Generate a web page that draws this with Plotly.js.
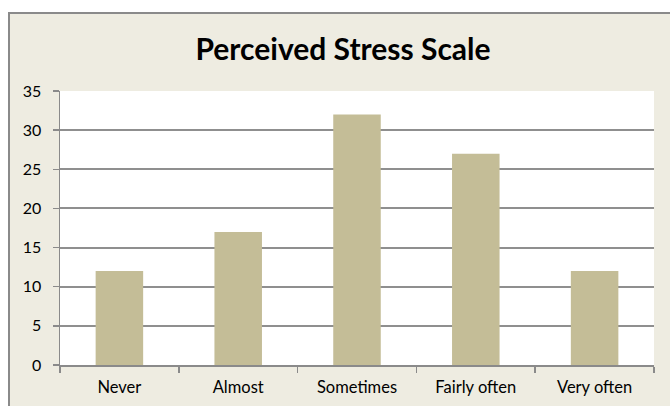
<!DOCTYPE html>
<html>
<head>
<meta charset="utf-8">
<script src="https://cdn.plot.ly/plotly-3.0.1.min.js"></script>
<style>html,body{margin:0;padding:0;background:#fff;}#chart{width:670px;height:406px;}</style>
</head>
<body>
<div id="chart"></div>
<script>
const categories = ["Never", "Almost", "Sometimes", "Fairly often", "Very often"];
const values = [12, 17, 32, 27, 12];
const yTicks = [0, 5, 10, 15, 20, 25, 30, 35];

const FONT = "Lato, 'Open Sans', sans-serif";
const W = 670, H = 406;
const m = {l: 60, r: 16, t: 91, b: 41};
const pw = W - m.l - m.r, ph = H - m.t - m.b;
const px = x => (x - m.l) / pw;
const py = y => (H - m.b - y) / ph;

Plotly.newPlot('chart', [{
  type: 'bar',
  x: categories,
  y: values,
  marker: {color: '#C4BD97'},
  hoverinfo: 'x+y'
}], {
  width: W, height: H,
  margin: m,
  paper_bgcolor: '#ffffff',
  plot_bgcolor: '#ffffff',
  bargap: 0.6,
  showlegend: false,
  title: {
    text: '<b>Perceived Stress Scale</b>',
    font: {family: FONT, size: 30, color: '#000'},
    x: 343 / W, xanchor: 'center',
    y: 1 - 49 / H, yanchor: 'middle'
  },
  xaxis: {
    type: 'category',
    showline: true, linecolor: '#8a8a8a', linewidth: 1.5,
    ticks: 'outside', tickson: 'boundaries', ticklen: 6, tickcolor: '#8a8a8a', tickwidth: 1.5,
    tickfont: {family: FONT, size: 16.5, color: '#000'},
    ticklabelstandoff: 7,
    showgrid: false
  },
  yaxis: {
    range: [0, 35],
    tickvals: yTicks,
    showline: true, linecolor: '#8a8a8a', linewidth: 1.5,
    ticks: 'outside', ticklen: 6, tickcolor: '#8a8a8a', tickwidth: 1.5,
    tickfont: {family: FONT, size: 16, color: '#000'},
    showgrid: true, gridcolor: '#8f8f8f', gridwidth: 2,
    zeroline: false,
    ticklabelstandoff: 8
  },
  shapes: [
    {type: 'rect', xref: 'paper', yref: 'paper', layer: 'below',
     x0: px(9), x1: px(690), y0: py(13), y1: py(430),
     fillcolor: '#EEECE1', line: {color: '#8a8a8a', width: 2}},
    {type: 'rect', xref: 'paper', yref: 'paper', layer: 'below',
     x0: 0, x1: 1, y0: 0, y1: 1,
     fillcolor: '#ffffff', line: {width: 0}}
  ]
}, {displayModeBar: false, staticPlot: true});
</script>
</body>
</html>
